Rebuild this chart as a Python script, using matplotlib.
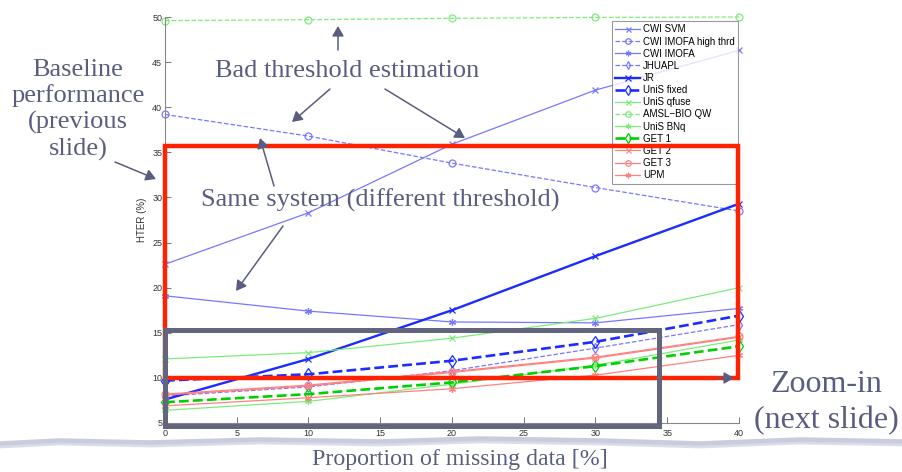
import matplotlib
matplotlib.use("Agg")
import matplotlib.pyplot as plt
from matplotlib.patches import Rectangle, FancyArrowPatch
from matplotlib.lines import Line2D

# ---------------- data ----------------
missing = [0, 10, 20, 30, 40]

cwi_svm        = [22.6, 28.3, 35.9, 41.9, 46.3]
cwi_imofa_high = [39.2, 36.8, 33.8, 31.1, 28.5]
cwi_imofa      = [19.1, 17.4, 16.2, 16.1, 17.7]
jhuapl         = [8.0, 9.0, 10.8, 13.3, 15.9]
jr             = [7.6, 12.1, 17.5, 23.5, 29.3]
unis_fixed     = [9.7, 10.4, 11.9, 14.0, 16.9]
unis_qfuse     = [12.1, 12.8, 14.4, 16.6, 20.0]
amsl_bio_qw    = [49.6, 49.7, 49.85, 49.95, 50.0]
unis_bnq       = [6.4, 7.4, 9.3, 11.4, 14.2]
get1           = [7.3, 8.2, 9.5, 11.3, 13.5]
get2           = [8.1, 9.1, 10.6, 12.2, 14.5]
get3           = [8.2, 9.2, 10.7, 12.3, 14.6]
upm            = [6.9, 7.8, 8.8, 10.3, 12.5]

series_names = ["CWI SVM", "CWI IMOFA high thrd", "CWI IMOFA", "JHUAPL", "JR",
                "UniS fixed", "UniS qfuse", "AMSL\u2212BIO QW", "UniS BNq",
                "GET 1", "GET 2", "GET 3", "UPM"]
series_values = [cwi_svm, cwi_imofa_high, cwi_imofa, jhuapl, jr, unis_fixed,
                 unis_qfuse, amsl_bio_qw, unis_bnq, get1, get2, get3, upm]

x_ticks = [0, 5, 10, 15, 20, 25, 30, 35, 40]
y_ticks = [5, 10, 15, 20, 25, 30, 35, 40, 45, 50]

# ---------------- styles ----------------
LB = "#7878ff"   # light blue
B = "#1a2cff"    # blue
LG = "#7ced7c"   # light green
G = "#00d000"    # green
LR = "#ff8080"   # light red
AST = (6, 2, 0)  # asterisk marker

styles = [
    dict(color=LB, ls="-", marker="x", lw=0.9, ms=4.5),
    dict(color=LB, ls="--", marker="o", lw=0.9, ms=5),
    dict(color=LB, ls="-", marker=AST, lw=0.9, ms=5),
    dict(color=LB, ls="--", marker="d", lw=0.9, ms=5),
    dict(color=B, ls="-", marker="x", lw=1.7, ms=5),
    dict(color=B, ls="--", marker="d", lw=1.9, ms=6),
    dict(color=LG, ls="-", marker="x", lw=0.9, ms=4.5),
    dict(color=LG, ls="--", marker="o", lw=0.9, ms=5),
    dict(color=LG, ls="-", marker=AST, lw=0.9, ms=5),
    dict(color=G, ls="--", marker="d", lw=1.9, ms=6),
    dict(color=LR, ls="-", marker="x", lw=0.9, ms=4.5),
    dict(color=LR, ls="-", marker="o", lw=0.9, ms=5),
    dict(color=LR, ls="-", marker=AST, lw=0.9, ms=5),
]

W, H = 903, 472
fig = plt.figure(figsize=(W / 100, H / 100), dpi=100)
fig.patch.set_facecolor("white")

def fx(px):
    return px / W

def fy(py):
    return 1 - py / H

TXT = "#5a5d80"
serif = "Liberation Serif"

# wavy brush band at the bottom (drawn first, beneath everything)
band_x = [0, 60, 150, 260, 380, 480, 600, 700, 800, 903]
band_y = [444, 441, 443, 440, 442, 439, 441, 444, 440, 442]
fig.add_artist(Line2D([fx(v) for v in band_x], [fy(v) for v in band_y],
                      color="#c3c7da", lw=4, solid_capstyle="round", alpha=0.9,
                      zorder=0))
fig.add_artist(Line2D([fx(v) for v in band_x], [fy(v + 3) for v in band_y],
                      color="#d8dbe8", lw=2, alpha=0.9, zorder=0))

ax_l, ax_r, ax_t, ax_b = 165, 739, 17, 423
ax = fig.add_axes([fx(ax_l), fy(ax_b), (ax_r - ax_l) / W, (ax_b - ax_t) / H])
ax.patch.set_alpha(0)

for name, vals, st in zip(series_names, series_values, styles):
    ax.plot(missing, vals, label=name, color=st["color"], ls=st["ls"], lw=st["lw"],
            marker=st["marker"], ms=st["ms"], mfc="none", mec=st["color"],
            mew=0.9, clip_on=False)

ax.set_xlim(0, 40)
ax.set_ylim(5, 50)
ax.set_xticks(x_ticks)
ax.set_yticks(y_ticks)
ax.tick_params(direction="in", length=4, width=0.7, colors="#777777",
               labelsize=6.5, labelcolor="#333333", pad=2)
ax.tick_params(axis="x", pad=4)
for s in ["top", "right"]:
    ax.spines[s].set_visible(False)
for s in ["left", "bottom"]:
    ax.spines[s].set_color("#888888")
    ax.spines[s].set_linewidth(0.8)
ax.set_ylabel("HTER (%)", fontsize=7, color="#333333", labelpad=4,
              family="Liberation Sans")
for lab in ax.get_xticklabels() + ax.get_yticklabels():
    lab.set_family("Liberation Sans")

leg = ax.legend(loc="upper right", bbox_to_anchor=(0.999, 0.99),
                frameon=True, fancybox=False, edgecolor="#808080",
                labelspacing=0.22, handlelength=2.6, handletextpad=0.3,
                borderpad=0.35, borderaxespad=0.0, markerscale=0.8,
                prop=dict(family="Liberation Sans", size=7))
leg.get_frame().set_linewidth(0.8)

# ---------------- slide decorations ----------------
fig.text(fx(460), fy(459), "Proportion of missing data [%]", fontsize=17.2,
         family=serif, color=TXT, ha="center", va="center")

fig.text(fx(347), fy(71), "Bad threshold estimation", fontsize=19,
         family=serif, color=TXT, ha="center", va="center")
fig.text(fx(380), fy(200), "Same system (different threshold)", fontsize=19,
         family=serif, color=TXT, ha="center", va="center")
fig.text(fx(78), fy(110), "Baseline\nperformance\n(previous\nslide)", fontsize=19,
         family=serif, color=TXT, ha="center", va="center", linespacing=1.22)
fig.text(fx(826), fy(384), "Zoom-in", fontsize=23,
         family=serif, color=TXT, ha="center", va="center")
fig.text(fx(826), fy(421), "(next slide)", fontsize=23,
         family=serif, color=TXT, ha="center", va="center")

# rectangles
fig.add_artist(Rectangle((fx(165), fy(378)), (738 - 165) / W, (378 - 146) / H,
                         fill=False, edgecolor="#ff2200", lw=3.2))
fig.add_artist(Rectangle((fx(165), fy(426)), (659 - 165) / W, (426 - 330) / H,
                         fill=False, edgecolor="#63657c", lw=3.6))

# arrows
arrows = [
    ((338, 50), (338, 26)),
    ((330, 89), (292, 122)),
    ((385, 89), (465, 138)),
    ((115, 162), (156, 179)),
    ((274, 186), (260, 138)),
    ((283, 226), (236, 291)),
    ((718, 378), (734, 378)),
]
for (x0, y0), (x1, y1) in arrows:
    fig.add_artist(FancyArrowPatch((fx(x0), fy(y0)), (fx(x1), fy(y1)),
                                   transform=fig.transFigure,
                                   arrowstyle="-|>,head_length=6,head_width=3.5",
                                   color="#5a5d80", lw=1.1, shrinkA=0, shrinkB=0))

fig.savefig("out.png", dpi=100, facecolor="white")
